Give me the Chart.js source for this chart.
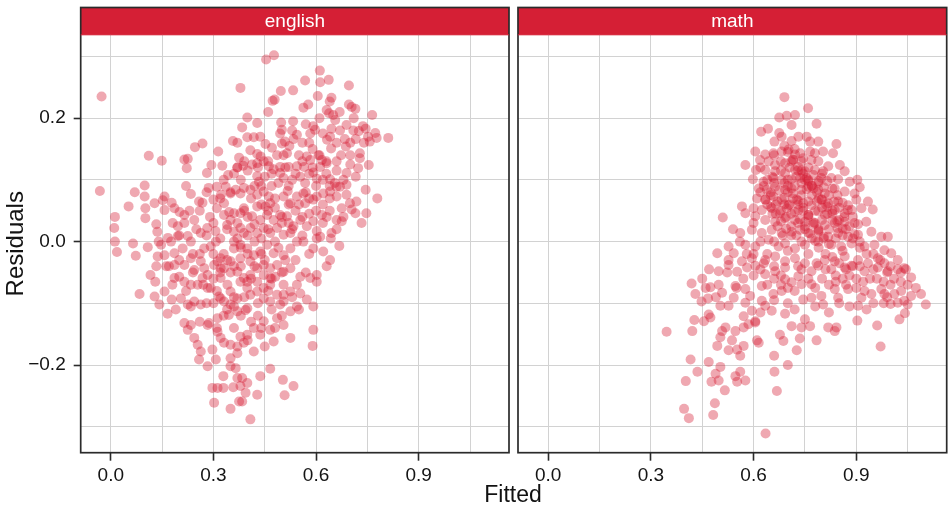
<!DOCTYPE html>
<html>
<head>
<meta charset="utf-8">
<script src="https://cdn.jsdelivr.net/npm/chart.js@4/dist/chart.umd.min.js"></script>
<style>
  html, body { margin: 0; padding: 0; background: #ffffff; }
  #wrap { position: relative; width: 952px; height: 509px; overflow: hidden; font-family: "Liberation Sans", Arial, sans-serif; }
  #leftPanel { position: absolute; left: 0; top: 0; }
  #rightPanel { position: absolute; left: 513px; top: 0; }
  #xTitle { position: absolute; left: 413px; width: 200px; top: 483px; text-align: center;
            font-size: 23px; line-height: 23px; color: #111; }
</style>
</head>
<body>
<div id="wrap">
  <canvas id="leftPanel" width="514" height="509"></canvas>
  <canvas id="rightPanel" width="439" height="509"></canvas>
  <div id="xTitle">Fitted</div>
</div>
<script>
// Facet names
const panelNames = ['english', 'math'];

// Axis ticks (gridlines at every step, labels only on the major ones)
const xTickValues = [0, 0.15, 0.3, 0.45, 0.6, 0.75, 0.9, 1.05];
const xTickLabels = [0, 0.3, 0.6, 0.9];
const yTickValues = [-0.3, -0.2, -0.1, 0, 0.1, 0.2, 0.3];
const yTickLabels = [-0.2, 0, 0.2];
const xLimits = [-0.088, 1.164];
const yLimits = [-0.342, 0.335];

// english: [fitted, residual]
const englishPoints = [
  [0.454,0.295],[0.477,0.302],[-0.027,0.235],[0.379,0.249],[0.611,0.277],[0.612,0.258],[0.637,0.262],[0.568,0.261],[0.696,0.253],[0.533,0.245],
  [0.497,0.244],[0.473,0.228],[0.479,0.230],[0.605,0.236],[0.645,0.233],[0.640,0.227],[0.577,0.222],[0.563,0.217],[0.696,0.222],[0.704,0.218],
  [0.715,0.215],[0.460,0.210],[0.631,0.213],[0.638,0.208],[0.669,0.210],[0.656,0.197],[0.764,0.205],[0.399,0.201],[0.428,0.192],[0.384,0.185],
  [0.498,0.193],[0.500,0.181],[0.495,0.175],[0.533,0.195],[0.592,0.187],[0.597,0.181],[0.583,0.175],[0.645,0.183],[0.641,0.170],[0.632,0.165],
  [0.644,0.151],[0.689,0.189],[0.709,0.180],[0.725,0.179],[0.737,0.187],[0.745,0.183],[0.752,0.170],[0.773,0.176],[0.777,0.168],[0.811,0.168],
  [0.757,0.162],[0.716,0.166],[0.684,0.166],[0.687,0.154],[0.728,0.143],[0.700,0.140],[0.673,0.140],[0.728,0.135],[0.754,0.124],[0.723,0.119],
  [0.689,0.111],[0.716,0.105],[0.745,0.084],[0.779,0.070],
  [0.544,0.173],[0.534,0.166],[0.509,0.162],[0.500,0.159],[0.522,0.155],[0.515,0.143],[0.471,0.152],[0.452,0.158],[0.437,0.170],[0.418,0.169],
  [0.399,0.169],[0.357,0.163],[0.370,0.160],[0.408,0.148],[0.428,0.142],[0.438,0.138],[0.268,0.159],[0.246,0.153],[0.314,0.146],[0.111,0.139],
  [0.149,0.131],[0.215,0.133],[0.225,0.134],[0.222,0.119],[0.294,0.124],[0.326,0.123],[0.281,0.111],[0.343,0.108],[0.375,0.136],[0.370,0.120],
  [0.387,0.123],[0.413,0.125],[0.428,0.127],[0.447,0.130],[0.462,0.122],[0.476,0.117],[0.495,0.121],[0.520,0.121],[0.544,0.122],[0.486,0.140],
  [0.505,0.140],[0.573,0.138],[0.583,0.132],[0.607,0.140],[0.617,0.132],[0.631,0.127],[0.565,0.121],[0.592,0.112],[0.612,0.121],[0.428,0.106],
  [0.433,0.097],[0.495,0.111],[0.505,0.103],[0.554,0.105],[0.568,0.095],[0.602,0.102],[0.641,0.101],[0.655,0.095],[0.670,0.089],[0.689,0.092],
  [-0.032,0.082],[0.099,0.091],[0.070,0.080],[0.099,0.073],[0.052,0.057],[0.128,0.062],[0.101,0.054],[0.012,0.040],[0.010,0.022],[0.101,0.038],
  [0.157,0.073],[0.152,0.067],[0.178,0.063],[0.186,0.054],[0.201,0.048],[0.215,0.043],[0.133,0.028],[0.136,0.016],[0.157,0.051],[0.181,0.030],
  [0.196,0.025],[0.215,0.030],[0.220,0.090],[0.234,0.077],[0.258,0.065],[0.268,0.063],[0.286,0.087],[0.310,0.089],[0.322,0.076],[0.336,0.089],
  [0.350,0.078],[0.365,0.084],[0.379,0.078],[0.389,0.087],[0.300,0.068],[0.310,0.054],[0.331,0.062],[0.346,0.048],[0.360,0.046],[0.379,0.046],
  [0.389,0.054],[0.408,0.084],[0.428,0.076],[0.447,0.081],[0.462,0.073],[0.466,0.062],[0.452,0.057],[0.428,0.057],[0.413,0.041],[0.437,0.035],
  [0.457,0.043],[0.476,0.035],[0.495,0.043],[0.515,0.041],[0.517,0.082],
  [0.505,0.073],[0.525,0.062],[0.544,0.073],[0.563,0.078],[0.568,0.062],[0.592,0.068],[0.602,0.073],[0.621,0.078],[0.641,0.081],[0.660,0.089],
  [0.660,0.073],[0.689,0.076],[0.699,0.062],[0.718,0.065],[0.675,0.054],[0.704,0.052],[0.747,0.046],[0.715,0.046],[0.733,0.030],[0.675,0.033],
  [0.660,0.035],[0.645,0.014],[0.534,0.025],[0.554,0.035],[0.573,0.025],[0.592,0.033],[0.602,0.017],[0.617,0.043],[0.631,0.040],
  [0.331,0.043],[0.340,0.027],[0.360,0.016],[0.379,0.022],[0.389,0.014],[0.408,0.022],[0.428,0.014],[0.447,0.022],[0.466,0.014],[0.486,0.022],
  [0.505,0.011],[0.525,0.014],[0.244,0.035],[0.263,0.014],[0.282,0.022],[0.306,0.017],[0.167,0.006],[0.196,0.009],[0.225,0.009],
  [0.012,0.000],[0.018,-0.017],[0.065,-0.003],[0.073,-0.023],[0.108,-0.009],[0.133,-0.040],[0.137,-0.024],[0.157,-0.022],[0.147,-0.005],[0.176,0.000],
  [0.186,-0.019],[0.210,-0.011],[0.116,-0.054],[0.130,-0.065],[0.084,-0.085],[0.128,-0.089],[0.142,-0.102],[0.166,-0.117],[0.157,-0.081],[0.178,-0.094],
  [0.205,-0.092],[0.186,-0.059],[0.200,-0.057],[0.215,-0.065],[0.162,-0.040],[0.186,-0.038],[0.215,-0.038],[0.234,-0.027],[0.244,-0.046],[0.263,-0.032],
  [0.273,-0.011],[0.292,-0.008],[0.307,0.000],[0.234,0.000],[0.234,-0.070],[0.254,-0.070],[0.268,-0.059],[0.283,-0.075],[0.244,-0.097],[0.225,-0.102],
  [0.234,-0.105],[0.263,-0.102],
  [0.321,-0.027],[0.312,-0.032],[0.331,-0.043],[0.321,-0.059],[0.341,-0.070],[0.316,-0.089],[0.321,-0.092],[0.350,-0.102],[0.360,-0.105],[0.345,-0.119],
  [0.370,-0.113],[0.394,-0.111],[0.399,-0.108],[0.360,-0.040],[0.370,-0.049],[0.389,-0.059],[0.399,-0.065],[0.408,-0.054],[0.428,-0.043],[0.447,-0.038],
  [0.466,-0.043],[0.486,-0.038],[0.481,-0.057],[0.466,-0.070],[0.447,-0.075],
  [0.360,-0.011],[0.379,-0.005],[0.399,-0.011],[0.418,-0.022],[0.437,-0.016],[0.457,-0.005],[0.476,-0.019],[0.505,-0.022],[0.525,-0.011],[0.544,0.000],
  [0.563,0.000],[0.592,-0.011],[0.602,0.005],[0.621,-0.016],[0.641,-0.030],[0.631,-0.040],[0.602,-0.054],[0.602,-0.065],[0.583,-0.059],[0.554,-0.057],
  [0.544,-0.070],[0.505,-0.049],[0.525,-0.043],[0.668,-0.007],[0.643,0.005],[0.612,0.008],
  [0.505,-0.086],[0.495,-0.102],[0.525,-0.113],[0.544,-0.105],[0.573,-0.094],[0.592,-0.105],[0.592,-0.143],[0.590,-0.169],[0.525,-0.156],[0.476,-0.162],
  [0.466,-0.143],[0.505,-0.135],[0.486,-0.124],[0.447,-0.129],[0.418,-0.140],[0.399,-0.151],[0.379,-0.154],[0.437,-0.151],[0.418,-0.178],[0.389,-0.164],
  [0.215,-0.132],[0.234,-0.135],[0.225,-0.143],[0.244,-0.156],[0.254,-0.167],[0.263,-0.178],[0.258,-0.191],[0.283,-0.135],[0.287,-0.132],[0.312,-0.124],
  [0.312,-0.146],[0.321,-0.156],[0.331,-0.164],[0.350,-0.167],[0.370,-0.170],[0.370,-0.181],[0.350,-0.189],[0.297,-0.175],[0.307,-0.191],[0.283,-0.202],
  [0.350,-0.202],[0.365,-0.205],[0.329,-0.218],[0.370,-0.221],[0.384,-0.221],[0.358,-0.236],[0.379,-0.234],[0.399,-0.229],[0.437,-0.218],[0.466,-0.206],
  [0.503,-0.224],[0.534,-0.234],[0.508,-0.249],[0.428,-0.248],[0.394,-0.245],[0.384,-0.259],[0.375,-0.259],[0.350,-0.271],[0.302,-0.261],[0.297,-0.237],
  [0.312,-0.237],[0.329,-0.237],[0.408,-0.288],
  [0.321,-0.043],[0.350,-0.032],[0.379,-0.027],[0.408,-0.032],[0.379,-0.065],[0.399,-0.075],[0.408,-0.086],[0.428,-0.081],[0.447,-0.092],[0.466,-0.097],
  [0.350,-0.081],[0.331,-0.097],[0.370,-0.092],[0.292,-0.075],[0.283,-0.054],[0.273,-0.043],[0.302,-0.038],[0.447,-0.054],[0.428,-0.065],[0.466,-0.059],
  [0.505,-0.070],[0.486,-0.086],[0.525,-0.081],[0.554,-0.084],[0.505,-0.097],
  [0.300,0.030],[0.320,0.005],[0.350,0.035],[0.370,0.005],[0.400,0.040],[0.420,0.028],[0.440,0.005],[0.460,0.050],[0.480,0.055],[0.500,0.030],
  [0.520,0.060],[0.540,0.050],[0.560,0.010],[0.580,0.045],[0.620,0.060],[0.640,0.050],[0.660,0.020],[0.680,0.040],[0.470,0.090],[0.490,0.095],
  [0.530,0.100],[0.450,0.105],[0.420,0.090],[0.380,0.100],[0.360,0.110],[0.400,0.115],[0.580,0.110],[0.630,0.110],[0.660,0.115],[0.700,0.125],
  [0.590,0.150],[0.560,0.160],[0.660,0.160],[0.620,0.175],[0.570,0.190],[0.650,0.205],
  [0.260,-0.020],[0.280,0.010],[0.300,-0.060],[0.310,-0.080],[0.330,-0.020],[0.340,0.020],[0.350,-0.050],[0.360,-0.090],[0.370,0.030],[0.380,-0.010],
  [0.390,0.050],[0.400,-0.020],[0.410,-0.060],[0.420,0.000],[0.430,-0.100],[0.440,0.060],[0.450,-0.030],[0.460,0.020],[0.470,-0.060],[0.480,0.070],
  [0.490,-0.010],[0.500,0.040],[0.510,-0.030],[0.520,0.090],[0.530,0.020],[0.540,0.110],[0.550,0.060],[0.560,0.130],[0.570,0.080],[0.580,-0.020],
  [0.590,0.120],[0.600,0.090],[0.610,0.140],[0.620,0.030],[0.630,0.130],[0.640,0.090],[0.460,0.130],[0.430,0.120],[0.390,0.130],[0.350,0.080],
  [0.320,0.070],[0.290,0.040],[0.270,-0.070],[0.240,-0.050],[0.220,-0.080],[0.200,-0.030],[0.180,-0.070],[0.230,0.050],[0.250,0.020],[0.380,-0.120],
  [0.410,-0.130],[0.440,-0.140],[0.360,-0.140],[0.330,-0.120],[0.300,-0.100],[0.470,-0.110],[0.500,-0.120],[0.530,-0.090],[0.550,-0.110],[0.570,-0.050],
  [0.300,-0.020],[0.320,-0.050],[0.340,-0.030],[0.360,0.000],[0.380,-0.040],[0.400,0.010],[0.420,-0.040],[0.440,-0.020],[0.460,-0.080],[0.480,0.000],
  [0.500,-0.050],[0.520,0.030],[0.540,-0.030],[0.560,0.040],[0.580,0.070],[0.600,0.050],[0.620,0.100],[0.640,0.070],[0.660,0.130],[0.680,0.100],
  [0.700,0.160],[0.340,-0.110],[0.390,-0.090],[0.430,-0.120],[0.480,-0.140],[0.280,-0.100],[0.260,-0.130],[0.310,-0.140],[0.400,-0.160],[0.450,-0.170],
  [0.240,-0.020],[0.260,0.050],[0.280,0.080],[0.330,0.100],[0.370,0.120],[0.410,0.070],[0.440,0.090],[0.470,0.110],[0.510,0.120],[0.550,0.140],
  [0.580,0.160],[0.530,0.180],[0.610,0.200],[0.670,0.180],[0.710,0.200],[0.740,0.160],[0.200,0.010],[0.170,-0.040],[0.140,0.000],[0.190,-0.110]
];

// math: [fitted, residual]
const mathPoints = [
  [0.690,0.234],[0.759,0.216],[0.675,0.201],[0.697,0.204],[0.721,0.205],[0.711,0.189],[0.784,0.191],[0.622,0.178],[0.642,0.183],[0.675,0.176],
  [0.682,0.170],[0.661,0.162],[0.711,0.163],[0.731,0.170],[0.755,0.170],[0.765,0.162],[0.789,0.162],[0.842,0.158],
  [0.605,0.146],[0.634,0.141],[0.658,0.143],[0.682,0.146],[0.702,0.149],[0.721,0.141],[0.736,0.143],[0.765,0.146],[0.779,0.143],[0.803,0.146],
  [0.832,0.143],[0.576,0.124],[0.619,0.132],[0.644,0.130],[0.663,0.124],[0.692,0.127],[0.716,0.132],[0.745,0.135],[0.769,0.132],[0.789,0.130],
  [0.818,0.122],[0.852,0.124],[0.866,0.114],[0.607,0.116],[0.634,0.116],[0.663,0.114],[0.692,0.111],[0.721,0.116],[0.750,0.114],[0.779,0.116],
  [0.803,0.114],[0.827,0.103],[0.798,0.103],[0.598,0.101],[0.629,0.097],[0.658,0.103],[0.682,0.100],[0.711,0.101],[0.736,0.103],[0.760,0.100],
  [0.789,0.095],[0.847,0.101],[0.881,0.097],[0.903,0.100],[0.910,0.088],[0.615,0.086],[0.639,0.084],[0.663,0.089],[0.692,0.084],[0.711,0.086],
  [0.740,0.084],[0.760,0.089],[0.789,0.084],[0.808,0.078],[0.837,0.086],[0.866,0.081],[0.895,0.078],[0.610,0.070],[0.634,0.068],[0.658,0.073],
  [0.682,0.068],[0.702,0.059],[0.726,0.068],[0.745,0.062],[0.769,0.059],[0.798,0.068],[0.818,0.062],[0.847,0.065],[0.876,0.059],[0.900,0.068],
  [0.934,0.065],[0.566,0.057],[0.600,0.054],[0.624,0.051],[0.653,0.054],[0.677,0.046],[0.697,0.054],[0.731,0.051],[0.760,0.043],[0.789,0.049],
  [0.808,0.043],[0.837,0.051],[0.866,0.046],[0.886,0.051],[0.915,0.054],[0.948,0.052],[0.510,0.039],[0.576,0.046],[0.605,0.041],[0.634,0.035],
  [0.663,0.032],[0.692,0.038],[0.721,0.035],[0.750,0.032],[0.779,0.030],[0.808,0.027],[0.837,0.030],[0.866,0.032],[0.895,0.030],[0.929,0.032],
  [0.561,0.014],[0.595,0.019],[0.624,0.014],[0.653,0.019],[0.682,0.014],[0.711,0.016],[0.736,0.019],[0.760,0.014],[0.789,0.016],[0.818,0.008],
  [0.847,0.014],[0.876,0.008],[0.905,0.011],[0.944,0.016],[0.973,0.008],[0.992,0.008],
  [0.494,-0.019],[0.527,-0.008],[0.542,-0.019],[0.576,-0.005],[0.605,-0.008],[0.644,0.003],[0.673,-0.008],[0.692,-0.003],[0.721,-0.011],[0.750,-0.005],
  [0.789,0.000],[0.827,-0.005],[0.856,-0.008],[0.886,-0.003],[0.924,-0.008],[0.953,-0.005],[0.982,-0.014],[1.002,-0.019],[1.021,-0.030],[1.040,-0.043],
  [0.527,-0.030],[0.566,-0.032],[0.595,-0.027],[0.634,-0.030],[0.663,-0.024],[0.692,-0.032],[0.721,-0.027],[0.750,-0.035],[0.784,-0.035],[0.808,-0.030],
  [0.837,-0.032],[0.866,-0.024],[0.905,-0.030],[0.934,-0.035],[0.963,-0.027],[0.982,-0.035],
  [0.700,0.080],[0.715,0.070],[0.730,0.060],[0.745,0.050],[0.760,0.040],[0.775,0.028],[0.790,0.018],[0.805,0.005],[0.690,0.095],[0.705,0.120],
  [0.725,0.105],[0.740,0.095],[0.755,0.085],[0.770,0.075],[0.785,0.065],[0.800,0.055],[0.815,0.045],[0.830,0.035],[0.845,0.022],[0.860,0.010],
  [0.650,0.080],[0.665,0.060],[0.680,0.050],[0.695,0.040],[0.710,0.025],[0.725,0.010],[0.740,0.000],[0.640,0.060],[0.655,0.045],[0.670,0.025],
  [0.685,0.010],[0.760,0.120],[0.775,0.108],[0.790,0.098],[0.805,0.088],[0.820,0.075],[0.835,0.065],[0.850,0.055],[0.865,0.040],[0.880,0.025],
  [0.895,0.012],[0.910,0.000],[0.720,0.150],[0.740,0.130],[0.680,0.130],[0.655,0.105],
  [0.498,-0.048],[0.523,-0.050],[0.552,-0.049],[0.527,-0.038],[0.581,-0.042],[0.605,-0.039],[0.634,-0.053],[0.663,-0.048],[0.692,-0.042],[0.731,-0.056],
  [0.769,-0.048],[0.789,-0.039],[0.827,-0.045],[0.866,-0.042],[0.886,-0.039],[0.924,-0.048],[0.963,-0.042],[0.992,-0.048],[1.021,-0.045],[1.045,-0.045],
  [1.060,-0.058],[1.074,-0.075],[1.089,-0.085],[1.103,-0.102],
  [0.419,-0.068],[0.474,-0.074],[0.498,-0.070],[0.508,-0.083],[0.547,-0.072],[0.542,-0.091],[0.576,-0.077],[0.576,-0.099],[0.590,-0.088],[0.624,-0.072],
  [0.624,-0.096],[0.634,-0.104],[0.658,-0.085],[0.682,-0.080],[0.692,-0.061],[0.711,-0.066],[0.740,-0.069],[0.745,-0.094],[0.769,-0.069],[0.769,-0.091],
  [0.798,-0.088],[0.803,-0.102],[0.837,-0.077],[0.847,-0.091],[0.876,-0.077],[0.900,-0.075],[0.915,-0.091],[0.924,-0.080],[0.944,-0.085],[0.973,-0.077],
  [0.982,-0.085],[1.011,-0.085],[1.031,-0.080],[1.040,-0.096],[1.060,-0.088],
  [0.448,-0.097],[0.467,-0.092],[0.503,-0.104],[0.527,-0.104],[0.571,-0.121],[0.605,-0.129],[0.595,-0.112],[0.653,-0.112],[0.692,-0.117],[0.711,-0.137],
  [0.750,-0.126],[0.765,-0.137],[0.740,-0.139],[0.818,-0.139],[0.842,-0.139],[0.837,-0.145],[0.903,-0.128],[0.905,-0.104],[0.961,-0.136],[1.026,-0.126],
  [1.042,-0.116],[1.050,-0.102],[1.021,-0.099],[1.000,-0.101],
  [0.427,-0.127],[0.455,-0.129],[0.474,-0.123],[0.469,-0.118],[0.421,-0.145],[0.346,-0.146],[0.518,-0.139],[0.508,-0.145],[0.503,-0.155],[0.537,-0.160],
  [0.547,-0.145],[0.571,-0.139],[0.585,-0.134],[0.605,-0.131],[0.615,-0.164],[0.610,-0.160],[0.571,-0.169],[0.561,-0.185],[0.527,-0.176],[0.552,-0.175],
  [0.494,-0.169],[0.677,-0.151],[0.687,-0.161],[0.660,-0.185],[0.726,-0.176],[0.735,-0.157],[0.784,-0.160],[0.700,-0.200],[0.661,-0.211],[0.668,-0.242],
  [0.635,-0.311],[0.971,-0.170],
  [0.416,-0.191],[0.436,-0.211],[0.402,-0.226],[0.469,-0.195],[0.503,-0.203],[0.489,-0.214],[0.477,-0.227],[0.498,-0.225],[0.547,-0.218],[0.552,-0.227],
  [0.576,-0.225],[0.561,-0.211],[0.516,-0.241],[0.487,-0.262],[0.397,-0.271],[0.411,-0.286],[0.482,-0.281],
  [0.430,-0.085],[0.450,-0.060],[0.470,-0.045],[0.460,-0.075],[0.490,-0.090],
  [0.600,-0.055],[0.620,-0.045],[0.640,-0.070],[0.660,-0.060],[0.680,-0.055],[0.700,-0.075],[0.720,-0.080],[0.740,-0.045],[0.760,-0.060],[0.780,-0.075],
  [0.800,-0.060],[0.820,-0.070],[0.840,-0.055],[0.860,-0.060],[0.880,-0.055],[0.900,-0.060],[0.920,-0.065],[0.940,-0.060],[0.960,-0.060],[0.980,-0.065],
  [1.000,-0.070],[0.850,-0.100],[0.880,-0.105],[0.950,-0.100],[0.780,-0.105],[0.700,-0.100],[0.660,-0.095],[0.620,-0.115],[0.570,-0.060],[0.550,-0.075],
  [0.660,0.140],[0.690,0.155],[0.710,0.130],[0.730,0.115],[0.750,0.100],[0.770,0.090],[0.790,0.070],[0.810,0.060],[0.830,0.050],[0.850,0.035],
  [0.870,0.020],[0.890,0.005],[0.910,-0.010],[0.930,-0.020],[0.950,-0.020],[0.970,-0.030],[0.990,-0.050],[1.010,-0.060],[1.030,-0.065],[1.050,-0.070],
  [0.630,0.090],[0.650,0.075],[0.670,0.065],[0.690,0.060],[0.710,0.045],[0.730,0.030],[0.750,0.020],[0.770,0.005],[0.790,-0.010],[0.810,-0.020],
  [0.830,-0.025],[0.850,-0.035],[0.870,-0.045],[0.890,-0.040],[0.600,0.030],[0.620,0.000],[0.640,-0.020],[0.660,-0.040],[0.680,-0.070],[0.580,-0.020],
  [0.560,0.000],[0.540,0.020],[0.620,0.120],[0.640,0.100],[0.680,0.115],[0.700,0.100],[0.720,0.090],[0.740,0.075],[0.760,0.065],[0.780,0.050],
  [0.800,0.035],[0.820,0.020],[0.840,0.005],[0.860,-0.015],
  [0.700,0.090],[0.715,0.078],[0.730,0.066],[0.745,0.055],[0.760,0.043],[0.775,0.031],[0.790,0.020],[0.805,0.008],[0.820,-0.004],
  [0.660,0.095],[0.675,0.083],[0.690,0.071],[0.705,0.060],[0.720,0.048],[0.735,0.036],[0.750,0.025],[0.765,0.013],[0.780,0.001],
  [0.740,0.115],[0.755,0.103],[0.770,0.091],[0.785,0.080],[0.800,0.068],[0.815,0.056],[0.830,0.045],[0.845,0.033],[0.860,0.021],
  [0.700,0.145],[0.715,0.133],[0.730,0.121],[0.745,0.110],[0.760,0.098],[0.775,0.086],
  [0.800,0.110],[0.815,0.098],[0.830,0.086],[0.845,0.075],[0.860,0.063],[0.875,0.051],[0.890,0.040],[0.905,0.028],
  [0.620,0.080],[0.635,0.068],[0.650,0.056],[0.665,0.045],[0.680,0.033],[0.695,0.021],[0.710,0.010],
  [0.600,-0.020],[0.630,-0.035],[0.660,0.000],[0.700,-0.015],[0.730,-0.040],[0.760,-0.020],[0.810,-0.045],[0.840,-0.065],[0.870,-0.070],[0.910,-0.040],
  [0.950,-0.045],[1.000,-0.040],[1.030,-0.050],[0.980,-0.100],[0.930,-0.110],[0.990,-0.090],[0.720,-0.110],[0.820,-0.115]
];

const FONT = '"Liberation Sans", Arial, Helvetica, sans-serif';
const STRIP_RED = '#d51f35';
const POINT_FILL = 'rgba(213, 25, 50, 0.38)';
const GRID_GREY = '#d2d2d2';
const INK = '#141414';

function isLabelled(v, list) {
  return list.some(m => Math.abs(m - v) < 1e-9);
}
function formatTick(v) {
  const s = Math.abs(v).toFixed(1);
  return v < -1e-9 ? '\u2212' + s : s;
}

// Facet frame + title strip
const facetDecor = {
  id: 'facetDecor',
  beforeDraw(chart) {
    const { ctx, chartArea } = chart;
    ctx.save();
    ctx.fillStyle = STRIP_RED;
    ctx.fillRect(chartArea.left, 7.5, chartArea.right - chartArea.left, chartArea.top - 7.5);
    ctx.restore();
  },
  afterDraw(chart) {
    const { ctx, chartArea } = chart;
    ctx.save();
    ctx.strokeStyle = '#2b2b2b';
    ctx.lineWidth = 1.7;
    ctx.strokeRect(chartArea.left, 7.5, chartArea.right - chartArea.left, chartArea.bottom - 7.5);
    ctx.beginPath();
    ctx.moveTo(chartArea.left, chartArea.top);
    ctx.lineTo(chartArea.right, chartArea.top);
    ctx.lineWidth = 1;
    ctx.strokeStyle = STRIP_RED;
    ctx.stroke();
    ctx.restore();
  }
};

function makePanel(canvasId, name, points, withYAxis, yAxisWidth, padRight) {
  return new Chart(document.getElementById(canvasId), {
    type: 'scatter',
    data: {
      datasets: [{
        label: name,
        data: points.map(([x, y]) => ({ x, y })),
        backgroundColor: POINT_FILL,
        borderWidth: 0,
        pointRadius: 5,
        pointHoverRadius: 5
      }]
    },
    options: {
      responsive: false,
      animation: false,
      devicePixelRatio: 1,
      events: [],
      layout: { padding: { left: 0, right: padRight, top: 0, bottom: 0 } },
      plugins: {
        legend: { display: false },
        tooltip: { enabled: false },
        title: {
          display: true,
          text: name,
          color: '#ffffff',
          fullSize: false,
          font: { family: FONT, size: 19, weight: 'normal', lineHeight: 1.2 },
          padding: { top: 10, bottom: 2 }
        }
      },
      scales: {
        x: {
          type: 'linear',
          min: xLimits[0],
          max: xLimits[1],
          afterBuildTicks: s => { s.ticks = xTickValues.map(v => ({ value: v })); },
          afterFit: s => { s.height = 56.3; },
          border: { display: false },
          grid: {
            color: GRID_GREY,
            lineWidth: 1,
            drawTicks: true,
            tickLength: 8,
            tickWidth: 1.6,
            tickColor: c => isLabelled(c.tick.value, xTickLabels) ? '#2b2b2b' : 'rgba(0,0,0,0)'
          },
          ticks: {
            autoSkip: false,
            maxRotation: 0,
            padding: 4,
            color: INK,
            font: { family: FONT, size: 19 },
            callback: v => isLabelled(v, xTickLabels) ? formatTick(v) : ''
          }
        },
        y: {
          type: 'linear',
          min: yLimits[0],
          max: yLimits[1],
          afterBuildTicks: s => { s.ticks = yTickValues.map(v => ({ value: v })); },
          afterFit: s => { s.width = yAxisWidth; },
          border: { display: false },
          title: {
            display: withYAxis,
            text: 'Residuals',
            color: INK,
            font: { family: FONT, size: 24 },
            padding: { top: 2, bottom: 0 }
          },
          grid: {
            color: GRID_GREY,
            lineWidth: 1,
            drawTicks: withYAxis,
            tickLength: 7,
            tickWidth: 1.6,
            tickColor: c => isLabelled(c.tick.value, yTickLabels) ? '#2b2b2b' : 'rgba(0,0,0,0)'
          },
          ticks: {
            display: withYAxis,
            autoSkip: false,
            padding: 8,
            color: INK,
            font: { family: FONT, size: 19 },
            callback: v => isLabelled(v, yTickLabels) ? formatTick(v) : ''
          }
        }
      }
    },
    plugins: [facetDecor]
  });
}

makePanel('leftPanel', panelNames[0], englishPoints, true, 80.7, 3.3);
makePanel('rightPanel', panelNames[1], mathPoints, false, 3.7, 5.3);
</script>
</body>
</html>
